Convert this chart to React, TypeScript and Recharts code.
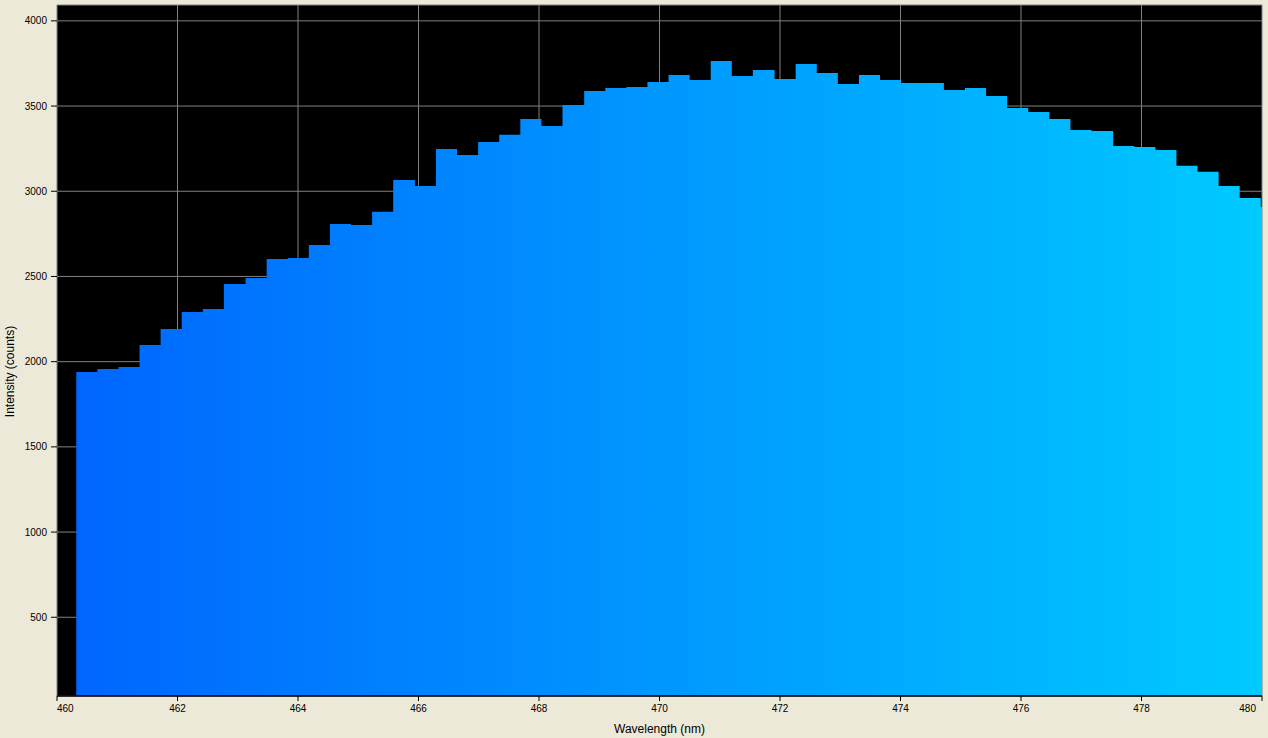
import React from 'react';
import { AreaChart, Area, XAxis, YAxis, CartesianGrid } from 'recharts';

// start wavelength of each spectrometer bin (nm)
const WAVELENGTHS = [
  460.32, 460.67, 461.02, 461.37, 461.72, 462.07, 462.42, 462.77, 463.13, 463.48,
  463.83, 464.18, 464.53, 464.88, 465.23, 465.58, 465.94, 466.29, 466.64, 466.99,
  467.34, 467.69, 468.04, 468.39, 468.75, 469.1, 469.45, 469.8, 470.15, 470.5,
  470.85, 471.2, 471.55, 471.91, 472.26, 472.61, 472.96, 473.31, 473.66, 474.01,
  474.36, 474.72, 475.07, 475.42, 475.77, 476.12, 476.47, 476.82, 477.17, 477.53,
  477.88, 478.23, 478.58, 478.93, 479.28, 479.63, 479.98,
];
// right edge of the last bin, so the final step gets its width
const LAST_BIN_END = 480.33;

// intensity per bin (counts)
const COUNTS = [
  1940, 1957, 1969, 2098, 2192, 2292, 2309, 2456, 2491, 2603,
  2609, 2685, 2808, 2802, 2879, 3066, 3031, 3248, 3213, 3289,
  3331, 3424, 3383, 3506, 3588, 3606, 3612, 3641, 3682, 3653,
  3765, 3676, 3712, 3659, 3747, 3694, 3629, 3682, 3653, 3635,
  3635, 3594, 3606, 3559, 3488, 3465, 3424, 3360, 3354, 3266,
  3260, 3242, 3149, 3114, 3031, 2961, 2908,
];

const X_TICKS = [460, 462, 464, 466, 468, 470, 472, 474, 476, 478, 480];
const Y_TICKS = [500, 1000, 1500, 2000, 2500, 3000, 3500, 4000];
const X_DOMAIN = [460, 480];
const Y_DOMAIN = [38, 4093];

const FONT = '"Liberation Sans", Arial, sans-serif';

// first and last labels are pushed inside the axis, like the original
function WavelengthTick({ x, y, payload }: { x?: number; y?: number; payload?: { value: number } }) {
  const v = payload ? payload.value : 0;
  let anchor: 'start' | 'middle' | 'end' = 'middle';
  if (v === X_DOMAIN[0]) anchor = 'start';
  if (v === X_DOMAIN[1]) anchor = 'end';
  return (
    <text x={x} y={y} dy="0.71em" textAnchor={anchor} fill="#000" fontSize={10} fontFamily={FONT}>
      {v}
    </text>
  );
}

function XLabel({ viewBox }: { viewBox?: { x: number; y: number; width: number; height: number } }) {
  if (!viewBox) return null;
  return (
    <text x={viewBox.x + viewBox.width / 2} y={viewBox.y + 37} textAnchor="middle" fill="#000" fontSize={12} fontFamily={FONT}>
      Wavelength (nm)
    </text>
  );
}

function YLabel({ viewBox }: { viewBox?: { x: number; y: number; width: number; height: number } }) {
  if (!viewBox) return null;
  const cx = 9.5;
  const cy = viewBox.y + viewBox.height / 2 + 21;
  return (
    <text
      x={cx}
      y={cy}
      dy="0.35em"
      transform={`rotate(-90, ${cx}, ${cy})`}
      textAnchor="middle"
      fill="#000"
      fontSize={12}
      fontFamily={FONT}
    >
      Intensity (counts)
    </text>
  );
}

export default function App() {
  const chartData = WAVELENGTHS.map((wl, i) => ({ wl, counts: COUNTS[i] }));
  chartData.push({ wl: LAST_BIN_END, counts: COUNTS[COUNTS.length - 1] });

  return (
    <div
      style={{
        position: 'fixed',
        left: 0,
        top: 0,
        width: 1268,
        height: 738,
        background: '#ECE9D8',
        fontFamily: FONT,
      }}
    >
      <AreaChart width={1268} height={738} data={chartData} margin={{ top: 5, right: 6, bottom: 0, left: 0 }}>
        <defs>
          <linearGradient id="spectrumFill" x1="0" y1="0" x2="1" y2="0">
            <stop offset="0%" stopColor="#0066FF" />
            <stop offset="100%" stopColor="#00CCFF" />
          </linearGradient>
        </defs>
        <CartesianGrid stroke="#808080" fill="#000" fillOpacity={1} />
        <XAxis
          dataKey="wl"
          type="number"
          domain={X_DOMAIN}
          ticks={X_TICKS}
          allowDataOverflow
          height={42}
          axisLine={{ stroke: '#000', strokeWidth: 1.5 }}
          tickLine={{ stroke: '#000' }}
          tickSize={5}
          tickMargin={4}
          tick={<WavelengthTick />}
          label={XLabel}
        />
        <YAxis
          type="number"
          domain={Y_DOMAIN}
          ticks={Y_TICKS}
          allowDataOverflow
          width={57}
          axisLine={false}
          tickLine={{ stroke: '#000' }}
          tickSize={6}
          tickMargin={4}
          tick={{ fill: '#000', fontSize: 10, fontFamily: FONT }}
          label={YLabel}
        />
        <Area
          type="stepAfter"
          dataKey="counts"
          stroke="none"
          fill="url(#spectrumFill)"
          fillOpacity={1}
          baseValue="dataMin"
          dot={false}
          activeDot={false}
          isAnimationActive={false}
        />
      </AreaChart>
    </div>
  );
}
